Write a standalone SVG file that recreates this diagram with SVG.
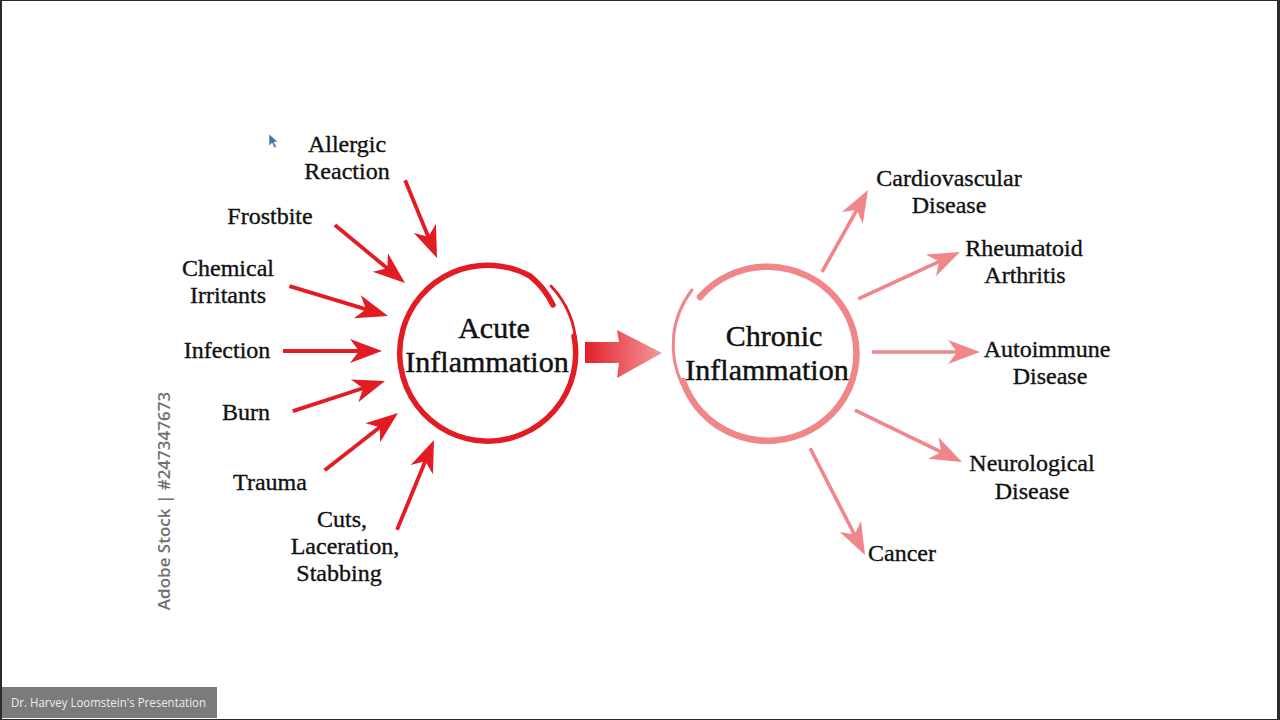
<svg xmlns="http://www.w3.org/2000/svg" xmlns:xlink="http://www.w3.org/1999/xlink" width="1280" height="720" viewBox="0 0 1280 720">
<style>
.lbl{font-family:"Liberation Serif","Times New Roman",serif;font-size:24px;fill:#111;stroke:#111;stroke-width:0.35;text-anchor:middle}
.title{font-family:"Liberation Serif","Times New Roman",serif;font-size:30px;fill:#111;stroke:#111;stroke-width:0.45;text-anchor:middle}
.red line{stroke:#e31b23;stroke-width:3.8}
.red use{fill:#e31b23}
.pink line{stroke:#f08689;stroke-width:3.6}
.pink use{fill:#f08689}
</style>
<defs>
<path id="head" d="M0,0 L-32,-12 L-23,0 L-32,12 Z"/>
<linearGradient id="bigg" gradientUnits="userSpaceOnUse" x1="585" y1="0" x2="662" y2="0">
<stop offset="0" stop-color="#e3202a"/>
<stop offset="1" stop-color="#f29a9c"/>
</linearGradient>
</defs>
<rect x="0" y="0" width="1280" height="720" fill="#2b2b2b"/>
<rect x="2" y="1" width="1275" height="718" fill="#ffffff"/>

<g id="acute">
<path d="M551,286 A92,92 0 0 1 576,346" fill="none" stroke="#e31b23" stroke-width="2.8" stroke-linecap="round"/>
<path d="M574,336 A88,88 0 1 1 530,276 A82,82 0 0 1 553,305" fill="none" stroke="#e31b23" stroke-width="5.5" stroke-linecap="round"/>
<text class="title" x="494" y="338">Acute</text>
<text class="title" x="487" y="372">Inflammation</text>
</g>

<g id="chronic">
<path d="M692,290 A90,90 0 0 0 682,384" fill="none" stroke="#f08689" stroke-width="3" stroke-linecap="round"/>
<path d="M700,297 A89,87 0 1 1 683,381" fill="none" stroke="#f08689" stroke-width="6.5" stroke-linecap="round"/>
<text class="title" x="774" y="346">Chronic</text>
<text class="title" x="767" y="380">Inflammation</text>
</g>

<g id="big-arrow">
<path d="M585,342 L619,342 L617,330 L662,353 L617,378 L619,363 L585,363 Z" fill="url(#bigg)"/>
</g>

<g id="connectors">
<g class="red">
<g transform="translate(437,258) rotate(67.7)"><line x1="-84" y1="0" x2="-20" y2="0"/><use xlink:href="#head"/></g>
<g transform="translate(405,283) rotate(39.6)"><line x1="-91" y1="0" x2="-20" y2="0"/><use xlink:href="#head"/></g>
<g transform="translate(388,316) rotate(16.9)"><line x1="-103" y1="0" x2="-20" y2="0"/><use xlink:href="#head"/></g>
<g transform="translate(382,351) rotate(0)"><line x1="-99" y1="0" x2="-20" y2="0"/><use xlink:href="#head"/></g>
<g transform="translate(385,381) rotate(-18.1)"><line x1="-97" y1="0" x2="-20" y2="0"/><use xlink:href="#head"/></g>
<g transform="translate(398,413) rotate(-38)"><line x1="-93" y1="0" x2="-20" y2="0"/><use xlink:href="#head"/></g>
<g transform="translate(434,440) rotate(-67.6)"><line x1="-97" y1="0" x2="-20" y2="0"/><use xlink:href="#head"/></g>
</g>
<g class="pink">
<g transform="translate(868,190) rotate(-60.7)"><line x1="-94" y1="0" x2="-20" y2="0"/><use xlink:href="#head"/></g>
<g transform="translate(960,252) rotate(-24.7)"><line x1="-112" y1="0" x2="-20" y2="0"/><use xlink:href="#head"/></g>
<g transform="translate(980,352) rotate(0)"><line x1="-108" y1="0" x2="-20" y2="0"/><use xlink:href="#head"/></g>
<g transform="translate(962,462) rotate(25.9)"><line x1="-119" y1="0" x2="-20" y2="0"/><use xlink:href="#head"/></g>
<g transform="translate(865,555) rotate(62.8)"><line x1="-120" y1="0" x2="-20" y2="0"/><use xlink:href="#head"/></g>
</g>
</g>

<g id="allergic"><text class="lbl" x="347" y="152">Allergic</text><text class="lbl" x="347" y="179">Reaction</text></g>
<g id="frostbite"><text class="lbl" x="270" y="224">Frostbite</text></g>
<g id="chemical"><text class="lbl" x="228" y="276">Chemical</text><text class="lbl" x="228" y="303">Irritants</text></g>
<g id="infection"><text class="lbl" x="227" y="358">Infection</text></g>
<g id="burn"><text class="lbl" x="246" y="420">Burn</text></g>
<g id="trauma"><text class="lbl" x="270" y="490">Trauma</text></g>
<g id="cuts"><text class="lbl" x="342" y="527">Cuts,</text><text class="lbl" x="345" y="554">Laceration,</text><text class="lbl" x="339" y="581">Stabbing</text></g>

<g id="cardio"><text class="lbl" x="949" y="186">Cardiovascular</text><text class="lbl" x="949" y="213">Disease</text></g>
<g id="rheum"><text class="lbl" x="1024" y="256">Rheumatoid</text><text class="lbl" x="1025" y="283">Arthritis</text></g>
<g id="autoimmune"><text class="lbl" x="1047" y="357">Autoimmune</text><text class="lbl" x="1050" y="384">Disease</text></g>
<g id="neuro"><text class="lbl" x="1032" y="471">Neurological</text><text class="lbl" x="1032" y="499">Disease</text></g>
<g id="cancer"><text class="lbl" x="902" y="561">Cancer</text></g>

<text transform="translate(170,501) rotate(-90)" x="0" y="0" text-anchor="middle" font-family="Open Sans, Liberation Sans, sans-serif" font-weight="600" font-size="17" fill="#707070">Adobe Stock | #247347673</text>

<path d="M269,134 L269,146 L272,143 L274.5,148 L276.5,147 L274,142 L278,142 Z" fill="#3d74b0" stroke="#ffffff" stroke-width="0.6"/>

<rect x="2" y="687" width="215" height="31" fill="#7b7b7b"/>
<text x="11" y="707" font-family="Open Sans, Liberation Sans, sans-serif" font-size="12.5" fill="#ececec" textLength="195" lengthAdjust="spacingAndGlyphs">Dr. Harvey Loomstein's Presentation</text>
</svg>
